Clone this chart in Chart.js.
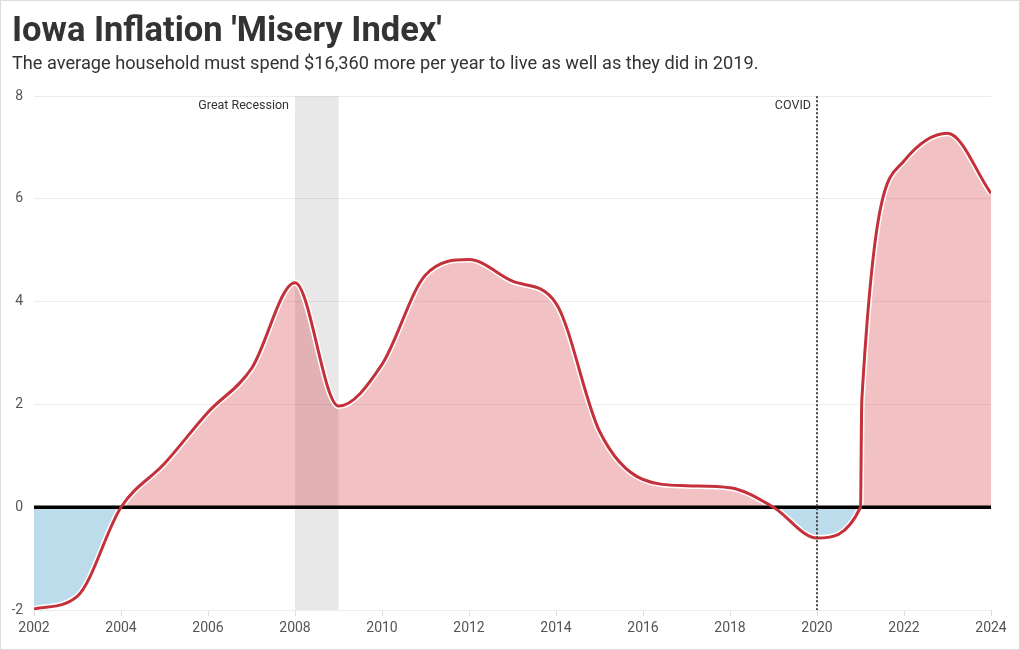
<!DOCTYPE html>
<html>
<head>
<meta charset="utf-8">
<title>Iowa Inflation 'Misery Index'</title>
<script src="https://cdn.jsdelivr.net/npm/chart.js@4"></script>
<style>
    html, body { margin: 0; padding: 0; background: #fff; }
    #wrap { width: 1018px; height: 648px; border: 1px solid #ddd; }
</style>
</head>
<body>
<div id="wrap"><canvas id="chart"></canvas></div>
<script>
// values
const YEARS = [2002, 2003, 2004, 2005, 2006, 2007, 2008, 2009, 2010, 2011, 2012, 2013,
    2014, 2015, 2016, 2017, 2018, 2019, 2020, 2021, 2021.03, 2022, 2023, 2024];
const MISERY = [-1.98, -1.73, 0, 0.85, 1.85, 2.7, 4.37, 1.97, 2.78, 4.52, 4.82, 4.4,
    3.97, 1.48, 0.54, 0.42, 0.38, 0, -0.6, 0, 2.08, 6.74, 7.28, 6.11];

const X_MIN = 2002, X_MAX = 2024, X_STEP = 2;
const Y_MIN = -2, Y_MAX = 8, Y_STEP = 2;

const RECESSION = [2008, 2009];
const COVID = 2020;

const TITLE = "Iowa Inflation 'Misery Index'";
const SUBTITLE = 'The average household must spend $16,360 more per year to live as well as they did in 2019.';

const FONT = 'Roboto';
const RED = '#c4313b';

const points = YEARS.map((x, i) => ({ x: x, y: MISERY[i] }));

// gray band + labels under the data, zero line after the fill, covid marker on top
const markers = {
    id: 'markers',
    beforeDatasetsDraw(chart) {
        const { ctx, chartArea, scales } = chart;
        const x0 = scales.x.getPixelForValue(RECESSION[0]);
        const x1 = scales.x.getPixelForValue(RECESSION[1]);
        ctx.save();
        ctx.fillStyle = 'rgba(0,0,0,0.09)';
        ctx.fillRect(x0, chartArea.top, x1 - x0, chartArea.bottom - chartArea.top);
        ctx.font = '12.5px ' + FONT;
        ctx.fillStyle = '#333';
        ctx.textAlign = 'right';
        ctx.textBaseline = 'middle';
        ctx.fillText('Great Recession', x0 - 6, chartArea.top + 10);
        ctx.fillText('COVID', scales.x.getPixelForValue(COVID) - 6, chartArea.top + 10);
        ctx.restore();
    },
    afterDatasetDraw(chart, args) {
        if (args.index !== 1) return;
        const { ctx, chartArea, scales } = chart;
        const y0 = scales.y.getPixelForValue(0);
        ctx.save();
        ctx.strokeStyle = '#000';
        ctx.lineWidth = 3.5;
        ctx.beginPath();
        ctx.moveTo(chartArea.left, y0);
        ctx.lineTo(chartArea.right, y0);
        ctx.stroke();
        ctx.restore();
    },
    afterDatasetsDraw(chart) {
        const { ctx, chartArea, scales } = chart;
        const x = Math.round(scales.x.getPixelForValue(COVID));
        ctx.save();
        ctx.strokeStyle = '#444';
        ctx.lineWidth = 2;
        ctx.setLineDash([2, 2]);
        ctx.beginPath();
        ctx.moveTo(x, chartArea.top);
        ctx.lineTo(x, chartArea.bottom);
        ctx.stroke();
        ctx.restore();
    }
};

new Chart(document.getElementById('chart'), {
    type: 'line',
    data: {
        datasets: [
            {
                data: points,
                borderColor: RED,
                borderWidth: 3,
                pointRadius: 0,
                cubicInterpolationMode: 'monotone',
                fill: false
            },
            {
                // white halo under the red line, carries the fill
                data: points,
                borderColor: '#fff',
                borderWidth: 6,
                pointRadius: 0,
                cubicInterpolationMode: 'monotone',
                fill: {
                    target: { value: 0 },
                    above: 'rgba(212,49,58,0.3)',
                    below: '#bcdcec'
                }
            }
        ]
    },
    options: {
        responsive: true,
        maintainAspectRatio: false,
        animation: false,
        events: [],
        layout: { padding: { left: 11, right: 28, top: 0, bottom: 0 } },
        scales: {
            x: {
                type: 'linear',
                min: X_MIN,
                max: X_MAX,
                border: { display: false },
                grid: { drawOnChartArea: false, tickLength: 6, color: '#ddd' },
                ticks: {
                    stepSize: X_STEP,
                    padding: 4,
                    color: '#555',
                    font: { family: FONT, size: 14 },
                    maxRotation: 0,
                    callback: (v) => String(v)
                },
                afterFit: (s) => { s.height = 39; }
            },
            y: {
                min: Y_MIN,
                max: Y_MAX,
                border: { display: false },
                grid: { color: '#ececec', drawTicks: false },
                ticks: {
                    stepSize: Y_STEP,
                    padding: 11,
                    color: '#555',
                    font: { family: FONT, size: 14 }
                },
                afterFit: (s) => { s.width = 22; }
            }
        },
        plugins: {
            legend: { display: false },
            tooltip: { enabled: false },
            title: {
                display: true,
                text: TITLE,
                align: 'start',
                color: '#333',
                font: { family: FONT, size: 34.5, weight: 'bold' },
                padding: { top: 11, bottom: 0 }
            },
            subtitle: {
                display: true,
                text: SUBTITLE,
                align: 'start',
                color: '#333',
                font: { family: FONT, size: 18.2 },
                padding: { top: 0, bottom: 21 }
            }
        }
    },
    plugins: [markers]
});
</script>
</body>
</html>
